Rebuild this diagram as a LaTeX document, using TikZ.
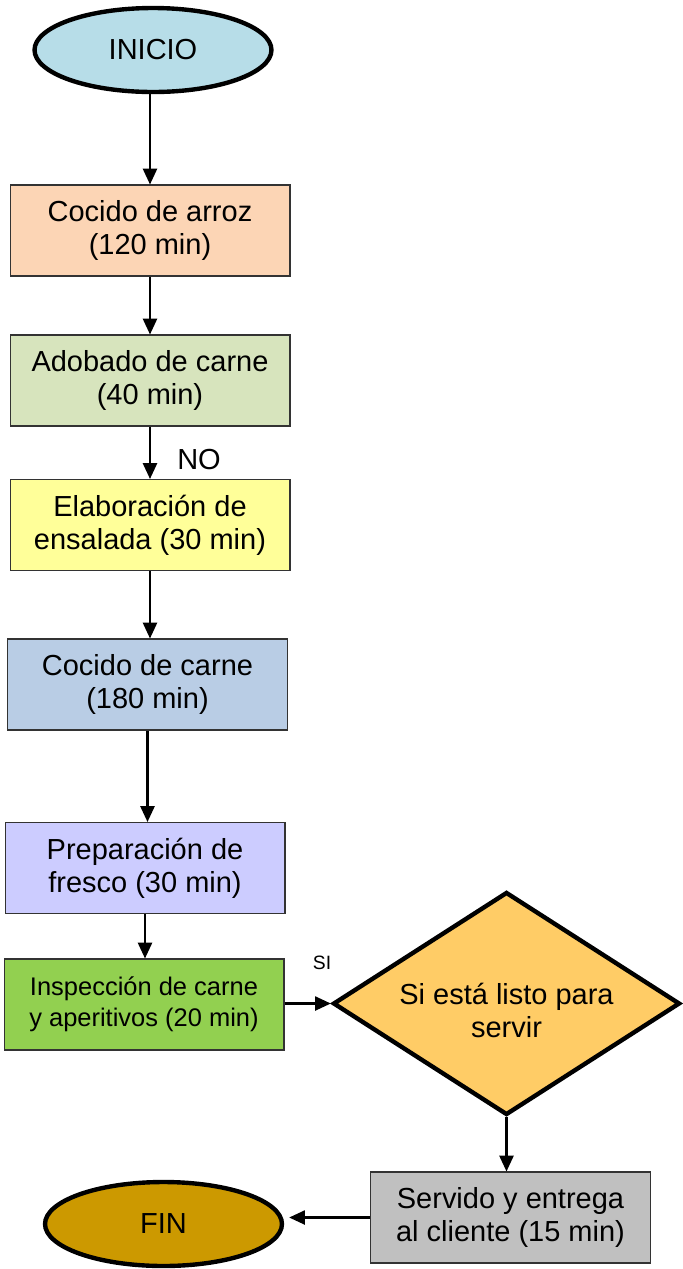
\documentclass[tikz,border=0pt]{standalone}
\usepackage{fontspec}
\setmainfont{Liberation Sans}
\usetikzlibrary{shapes.geometric,arrows.meta}

\definecolor{inicioblue}{HTML}{B7DDE8}
\definecolor{arrozpeach}{HTML}{FCD5B5}
\definecolor{adobadogreen}{HTML}{D7E4BD}
\definecolor{ensaladayellow}{HTML}{FFFF99}
\definecolor{carneblue}{HTML}{B9CDE5}
\definecolor{frescolilac}{HTML}{CCCCFF}
\definecolor{inspeccgreen}{HTML}{92D050}
\definecolor{listoorange}{HTML}{FFCC66}
\definecolor{servidogray}{HTML}{C0C0C0}
\definecolor{fingold}{HTML}{CC9900}

\tikzset{
  paso/.style={rectangle,draw=black!80,line width=0.6pt,minimum width=5.6cm,minimum height=1.82cm,
    align=center,font=\fontsize{16.5}{18.7}\selectfont,inner sep=2pt},
  extremo/.style={ellipse,draw=black,line width=2.5pt,minimum width=4.74cm,minimum height=1.68cm,
    font=\fontsize{16.5}{18}\selectfont},
  flecha/.style={line width=1.3pt,-{Triangle[width=8pt,length=9pt]}}
}

\begin{document}
\begin{tikzpicture}[x=0.02cm,y=-0.02cm]
\useasboundingbox (0,0) rectangle (683,1269);

% inicio node
\node[extremo,fill=inicioblue] (inicio) at (153,50) {INICIO};

% cocido de arroz node
\node[paso,fill=arrozpeach] (arroz) at (150,230.5) {Cocido de arroz\\(120 min)};

% adobado node
\node[paso,fill=adobadogreen] (adobado) at (150,380.5) {Adobado de carne\\(40 min)};

% ensalada node
\node[paso,fill=ensaladayellow] (ensalada) at (150,525) {Elaboración de\\ensalada (30 min)};

% cocido de carne node
\node[paso,fill=carneblue] (carne) at (147.5,684.5) {Cocido de carne\\(180 min)};

% fresco node
\node[paso,fill=frescolilac] (fresco) at (145,868) {Preparación de\\fresco (30 min)};

% inspeccion node
\node[paso,fill=inspeccgreen,font=\fontsize{14.5}{17.5}\selectfont] (inspeccion) at (144,1004.5) {Inspección de carne\\y aperitivos (20 min)};

% decision node
\node[diamond,draw=black,line width=2.5pt,fill=listoorange,minimum width=6.94cm,minimum height=4.46cm,
  inner sep=0pt,
  label={[align=center,yshift=-0.14cm,font=\fontsize{16.5}{18.7}\selectfont]center:Si está listo para\\servir}] (listo) at (506.5,1003.5) {};

% servido node
\node[paso,fill=servidogray] (servido) at (510.5,1217.5) {Servido y entrega\\al cliente (15 min)};

% fin node
\node[extremo,fill=fingold] (fin) at (163.5,1224) {FIN};

% connectors
\draw[flecha] (inicio.south -| arroz.north) -- (arroz.north);
\draw[flecha] (arroz) -- (adobado);
\draw[flecha] (adobado) -- (ensalada);
\draw[flecha] (ensalada) -- (ensalada |- carne.north);
\draw[flecha] (carne) -- (carne |- fresco.north);
\draw[flecha] (fresco) -- (fresco |- inspeccion.north);
\draw[flecha] (inspeccion.east |- listo.west) -- (listo.west);
\draw[flecha] (listo.south) -- (listo.south |- servido.north);
\draw[flecha] (servido.west) -- ([xshift=0.1cm]fin.east |- servido.west);

% labels
\node[font=\fontsize{16.5}{18}\selectfont] (no) at (199,460) {NO};
\node[font=\fontsize{11}{13}\selectfont] (si) at (322,963) {SI};

\end{tikzpicture}
\end{document}
